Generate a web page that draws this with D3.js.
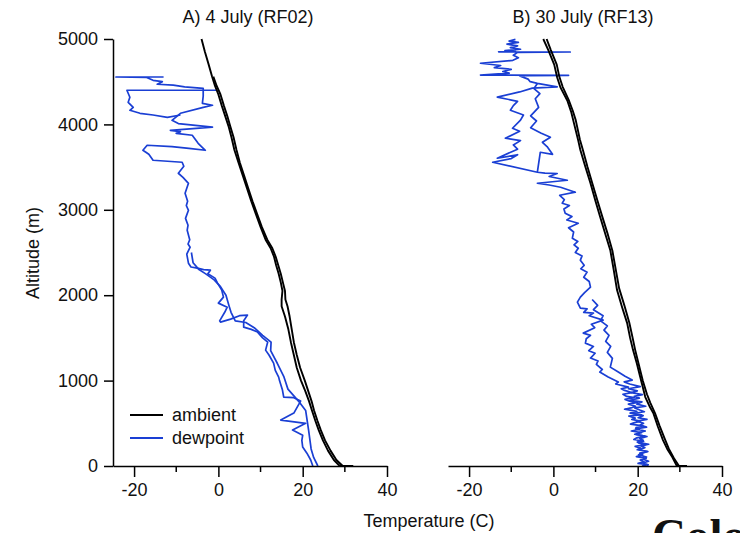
<!DOCTYPE html>
<html>
<head>
<meta charset="utf-8">
<script src="https://cdn.jsdelivr.net/npm/d3@7"></script>
<style>
  body { margin: 0; background: #fff; }
  svg { display: block; }
  text { font-family: "Liberation Sans", Arial, sans-serif; fill: #111; }
</style>
</head>
<body>
<div id="chart"></div>
<script>

// panel titles and tick values
let panelTitles = ["A) 4 July (RF02)", "B) 30 July (RF13)"];
let altTicks = [0, 1000, 2000, 3000, 4000, 5000];
let tempTicks = [-20, 0, 20, 40];
let tempMinorTicks = [-10, 10, 30];

// profiles: [temperature C, altitude m]

let ambA1 = [[-4,5000],[-3.2,4850],[-2.3,4700],[-1.5,4560],[-0.8,4450],[0,4350],[0.8,4220],[1.6,4100],[2.4,3980],[3.1,3850],[3.8,3700],[4.8,3550],[5.8,3400],[6.8,3250],[7.8,3100],[8.9,2950],[10,2800],[11.2,2650],[12.4,2550],[13.2,2450],[13.7,2350],[14.3,2250],[14.8,2150],[15.2,2050],[15.0,1950],[15.0,1870],[15.8,1750],[16.6,1600],[17.2,1450],[17.9,1300],[18.6,1150],[19.6,1000],[20.6,880],[21.5,760],[22.2,650],[23,530],[23.8,420],[24.8,300],[26,180],[27.4,70],[28.8,0],[32,0]];
let ambA2 = [[29.5,0],[28,70],[26.6,180],[25.3,300],[24.3,420],[23.5,530],[22.7,650],[22.1,760],[21.3,880],[20.5,1000],[19.4,1150],[18.6,1300],[17.9,1450],[17.4,1600],[16.9,1750],[16.4,1870],[15.9,1950],[15.8,2050],[15.3,2150],[14.8,2250],[14.2,2350],[13.6,2450],[12.8,2550],[11.6,2650],[10.3,2800],[9.2,2950],[8.1,3100],[7.1,3250],[6.1,3400],[5.1,3550],[4.3,3700],[3.6,3850],[2.8,3980],[2.1,4100],[1.3,4220],[0.5,4350],[-0.4,4450],[-1.2,4560]];

let dewA1 = [[-13,4555],[-24.3,4555],[-17,4550],[-15.5,4516],[-13.3,4500],[-14.5,4470],[-10.7,4460],[-8,4440],[-3.6,4422],[-3.6,4330],[-3.8,4247],[-1.4,4224],[-3.6,4200],[-9,4130],[-11,4048],[-9.5,4010],[-1.4,3967],[-11.4,3931],[-9,3915],[-10,3895],[-6.2,3873],[-4.8,3779],[-3.1,3697],[-7,3720],[-11,3740],[-16.9,3756],[-17.9,3697],[-16.5,3650],[-15.5,3580],[-8.6,3557],[-8.2,3510],[-9.5,3428],[-8.4,3380],[-7.1,3310],[-7.9,3194],[-7.3,3100],[-7.6,3050],[-7.1,2995],[-7.8,2900],[-7.2,2820],[-7.4,2761],[-6.8,2650],[-7.2,2600],[-6.7,2562],[-7.5,2480],[-7.1,2375],[-6.5,2330],[-5,2317],[-3.5,2300],[-1.9,2293],[-2.5,2250],[-0.8,2200],[-0.2,2141],[0.8,2060],[1.2,1977],[0,1907],[2.1,1860],[1.5,1800],[0.3,1700],[0.5,1685],[2.9,1720],[5,1760],[6.9,1767],[6,1700],[6,1626],[7.8,1600],[9.3,1568],[10.5,1500],[11.7,1451],[11.2,1357],[12,1300],[13.1,1205],[13.5,1120],[14.3,1041],[14.5,1000],[15.2,889],[15.5,807],[17.9,800],[19.5,760],[17.9,620],[14.8,538],[20.7,500],[17.6,421],[20,360],[19.8,300],[20,222],[21,150],[21.9,70],[22.4,0]];
let dewA2 = [[-0.2,4400],[-21.7,4400],[-21,4318],[-21.4,4259],[-20.2,4200],[-21,4165],[-18.6,4130],[-15.5,4110],[-12.1,4083],[-9,4110]];
let dewA3 = [[23.6,0],[22.6,100],[22,200],[21.4,421],[20.7,650],[19,760],[16.5,900],[15.5,1050],[14,1200],[12.4,1350],[12.5,1450],[10.5,1530],[8.5,1620],[6.5,1680],[4,1700],[3,1800],[2.5,1880],[1.8,2000],[0.5,2100],[-1,2180],[-3,2250],[-4.6,2300],[-6,2380],[-6.4,2500]];

let ambB1 = [[-2.4,5000],[-1.2,4870],[0.2,4700],[0.9,4550],[1.7,4430],[3.3,4280],[4.2,4150],[4.7,4050],[5.9,3810],[6.4,3700],[7.6,3500],[8.8,3310],[10,3100],[11.1,2915],[12.3,2720],[13.5,2527],[14.3,2300],[15.1,2060],[16.3,1860],[17.5,1673],[18.2,1500],[18.9,1357],[19.8,1200],[20.6,1041],[21.8,807],[22.8,700],[23.7,620],[24.8,460],[26,304],[27,200],[28.2,105],[29.3,0],[31.7,0]];
let ambB2 = [[29.8,0],[28.6,90],[27.4,200],[26.4,320],[25.2,470],[24.1,620],[23,740],[22.2,840],[21.2,1000],[20.3,1180],[19.4,1360],[18.8,1500],[18,1680],[16.9,1870],[15.6,2080],[14.8,2300],[14,2520],[12.8,2730],[11.6,2920],[10.5,3100],[9.3,3300],[8.1,3500],[7,3700],[6.3,3820],[5.3,4050],[4.6,4160],[3.6,4290],[2.2,4440],[1.4,4560],[0.8,4700],[-0.6,4870],[-1.6,5000]];

let dewB1 = [[-9,4995],[-10.5,4975],[-8.3,4960],[-11,4940],[-8.5,4920],[-10.2,4900],[-7.8,4880],[-11.5,4865],[-9,4855],[-13,4850],[4,4848],[-8.5,4843],[-9.5,4810],[-8.3,4780],[-9.6,4750],[-17.3,4716],[-12.5,4690],[-14,4665],[-10,4645],[-12,4620],[-10.5,4600],[-17.3,4578],[3.6,4575],[-8,4568],[-6,4530],[-5.5,4500],[-3.8,4480],[0.9,4440],[-5,4425],[-8,4380],[-13.3,4320],[-8.5,4270],[-9.5,4220],[-10.2,4165],[-7.1,4110],[-7.8,4050],[-9.7,3955],[-8,3920],[-11.4,3838],[-7.8,3810],[-9.5,3760],[-8.5,3710],[-13.3,3604],[-8.5,3645],[-10,3600],[-14.4,3557],[-3.8,3440],[-2,3430],[0.9,3425],[-1,3390],[3.3,3346],[-3.8,3311],[-1,3290],[1.7,3264],[5.2,3206],[1.5,3170],[2.6,3120],[2.1,3077],[3.8,3050],[2.5,3010],[2.8,2960],[4.4,2920],[3.2,2880],[5.9,2843],[3.6,2790],[4.8,2740],[4.5,2668],[5.8,2630],[4.9,2590],[5.9,2550],[5.2,2500],[6.8,2460],[6.4,2410],[7.3,2350],[6.5,2310],[8,2270],[7.2,2210],[8.5,2160],[8.8,2094],[7.4,2030],[6.4,1977],[5.7,1919],[6.4,1849],[8,1840],[7.2,1800],[9.5,1790],[8.5,1760],[11.8,1708],[9,1660],[9.8,1620],[7.1,1556],[8.8,1530],[7.8,1490],[7.6,1439],[9.5,1400],[8.4,1350],[9.9,1320],[8.8,1264],[10.6,1230],[10.2,1190],[11.6,1130],[11,1100],[13,1041],[15.4,983],[14.8,960],[17.8,924],[16.1,905],[16.9,885],[18.6,860],[16.5,840],[17.4,815],[19.2,800],[17,780],[18.1,760],[20,745],[17.8,725],[19.5,700],[18.4,680],[16.9,665],[19.8,640],[18.2,620],[20.9,600],[17.9,585],[19.4,560],[18.6,545],[20.6,525],[19.1,505],[18.3,490],[21.2,470],[19.6,450],[20.4,430],[18.5,410],[20.9,390],[19.3,372],[21.7,350],[19.8,330],[19.1,310],[21.4,290],[20.2,270],[21.9,250],[19.4,230],[20.7,210],[19.9,190],[22.3,170],[20.5,150],[21.2,130],[19.7,110],[22,90],[20.6,70],[21.5,50],[20.1,30],[22.4,15],[21,0]];
let dewB2 = [[-3.8,4480],[-4.6,4420],[-3.2,4360],[-4.3,4300],[-3.5,4200],[-5.4,4100],[-4,4040],[-5.4,3960],[-3,3900],[-0.7,3850],[-2.6,3790],[-1.5,3740],[-0.2,3650],[-3.1,3674],[-3.8,3440]];
let dewB3 = [[9.2,1950],[10.5,1880],[9.5,1830],[11.8,1760],[11.2,1700],[12.8,1640],[12,1591],[13.2,1530],[12.4,1460],[13.6,1400],[12.8,1330],[14,1260],[13.5,1158],[15.4,1100],[17,1050],[18.7,1006],[16.8,985],[18.1,960],[20.6,930],[17.8,905],[19.9,880],[18.5,860],[21.1,835],[19.2,815],[20.4,795],[18.2,770],[21,750],[19.8,725],[21.9,700],[19.3,680],[20.5,655],[21.6,635],[18.9,615],[21.3,590],[20.1,565],[22.2,545],[19.8,525],[21.4,500],[20.6,480],[22.1,455],[19.5,435],[21.8,410],[20.3,390],[19.6,370],[22.2,345],[20.5,320],[21.3,300],[19.9,280],[22.6,255],[20.8,235],[21.7,215],[20.3,190],[22.4,170],[21.1,150],[20.2,130],[22.1,105],[21.3,80],[22.6,55],[21.2,35],[22.5,15],[22.2,0]];

let blue = "#1a3fd4";

let panels = [
  { title: panelTitles[0], left: 113, amb: [ambA1, ambA2], dew: [dewA1, dewA2, dewA3], yAxis: true },
  { title: panelTitles[1], left: 448, amb: [ambB1, ambB2], dew: [dewB1, dewB2, dewB3], yAxis: false }
];

let plotWidth = 274;
let plotTop = 39, plotBottom = 466;
let fontSize = "18px";

let svg = d3.select("#chart")
  .append("svg")
    .attr("width", 740)
    .attr("height", 533);

let y = d3.scaleLinear()
  .domain([0, 5000])
  .range([plotBottom, plotTop]);

panels.forEach(p => {

  let x = d3.scaleLinear()
    .domain([-25, 40])
    .range([p.left, p.left + plotWidth]);

  let line = d3.line()
    .x(d => x(d[0]))
    .y(d => y(d[1]));

  // dewpoint traces

  p.dew.forEach(tr => {
    svg.append("path")
      .datum(tr)
      .attr("fill", "none")
      .attr("stroke", blue)
      .attr("stroke-width", 1.7)
      .attr("stroke-linejoin", "round")
      .attr("d", line);
  });

  // ambient traces

  p.amb.forEach(tr => {
    svg.append("path")
      .datum(tr)
      .attr("fill", "none")
      .attr("stroke", "#000")
      .attr("stroke-width", 1.9)
      .attr("stroke-linejoin", "round")
      .attr("d", line);
  });

  // x axis with major + minor ticks

  let gx = svg.append("g")
    .attr("transform", `translate(0,${plotBottom})`)
    .style("font-size", fontSize)
    .call(d3.axisBottom(x)
      .tickValues(tempTicks)
      .tickFormat(d => String(d))
      .tickSize(11)
      .tickPadding(6)
      .tickSizeOuter(0));
  gx.select(".domain").attr("stroke-width", 1.5);
  gx.selectAll(".tick line").attr("stroke-width", 1.5);
  gx.selectAll(".tick text")
    .style("font-family", "'Liberation Sans', Arial, sans-serif")
    .attr("fill", "#111");

  gx.selectAll(".minor")
    .data(tempMinorTicks)
    .join("line")
    .attr("class", "minor")
    .attr("x1", d => x(d))
    .attr("x2", d => x(d))
    .attr("y1", 0)
    .attr("y2", 6)
    .attr("stroke", "#000")
    .attr("stroke-width", 1.5);

  // y axis only on the first panel

  if (p.yAxis) {
    let gy = svg.append("g")
      .attr("transform", `translate(${p.left},0)`)
      .style("font-size", fontSize)
      .call(d3.axisLeft(y)
        .tickValues(altTicks)
        .tickFormat(d => String(d))
        .tickSize(9)
        .tickPadding(6)
        .tickSizeOuter(0));
    gy.select(".domain").attr("stroke-width", 1.5);
    gy.selectAll(".tick line").attr("stroke-width", 1.5);
    gy.selectAll(".tick text")
      .style("font-family", "'Liberation Sans', Arial, sans-serif")
      .attr("fill", "#111");
  }

  // panel title

  svg.append("text")
    .attr("x", p.left + plotWidth / 2 - 2)
    .attr("y", 23)
    .attr("text-anchor", "middle")
    .style("font-size", fontSize)
    .text(p.title);
});

// axis titles

svg.append("text")
  .attr("transform", "rotate(-90)")
  .attr("x", -253)
  .attr("y", 39)
  .attr("text-anchor", "middle")
  .style("font-size", fontSize)
  .text("Altitude (m)");

svg.append("text")
  .attr("x", 429)
  .attr("y", 527)
  .attr("text-anchor", "middle")
  .style("font-size", fontSize)
  .text("Temperature (C)");

// legend

let legend = [["ambient", "#000", 415], ["dewpoint", blue, 438]];

legend.forEach(l => {
  svg.append("line")
    .attr("x1", 130).attr("x2", 163)
    .attr("y1", l[2]).attr("y2", l[2])
    .attr("stroke", l[1])
    .attr("stroke-width", 1.9);
  svg.append("text")
    .attr("x", 172)
    .attr("y", l[2] + 6)
    .style("font-size", fontSize)
    .text(l[0]);
});

// logo text cut off by the bottom edge, as in the source image

svg.append("text")
  .attr("x", 652)
  .attr("y", 551)
  .style("font-family", "'Liberation Serif', 'DejaVu Serif', serif")
  .style("font-weight", "bold")
  .style("font-size", "47px")
  .text("Colorado");

</script>
</body>
</html>
